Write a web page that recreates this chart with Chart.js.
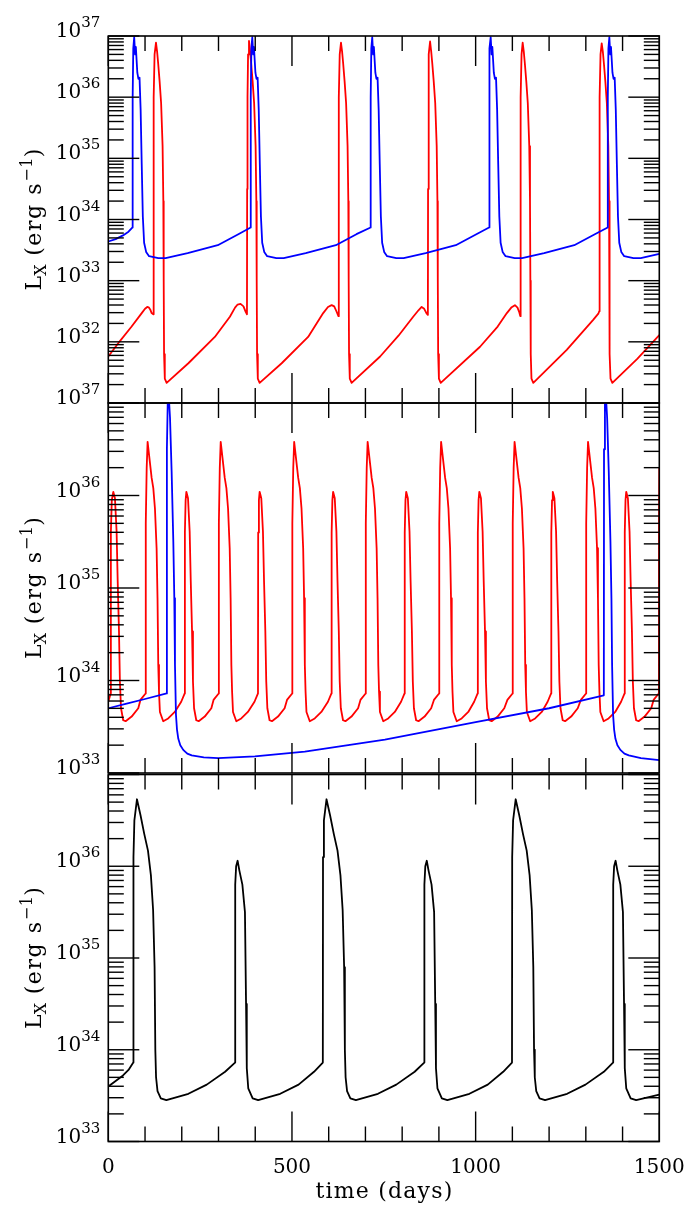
<!DOCTYPE html>
<html><head><meta charset="utf-8">
<script src="https://cdn.jsdelivr.net/npm/chart.js@4.4.1/dist/chart.umd.min.js"></script>
<style>
html,body{margin:0;padding:0;background:#fff;}
#wrap{position:relative;width:691px;height:1207px;background:#fff;}
canvas{position:absolute;left:0;top:0;}
</style></head><body><div id="wrap">
<canvas id="c1" width="691" height="1207"></canvas>
<canvas id="c2" width="691" height="1207"></canvas>
<canvas id="c3" width="691" height="1207"></canvas>
</div>
<script>
// ---------- axis ticks / labels ----------
const xTickValues  = [0,100,200,300,400,500,600,700,800,900,1000,1100,1200,1300,1400,1500];
const xMajorValues = [0,500,1000,1500];
const xTickLabels  = ['0','500','1000','1500'];
const topLabelExps = [37,36,35,34,33,32];
const midLabelExps = [37,36,35,34,33];
const botLabelExps = [36,35,34,33];
const xTitle = 'time (days)';

// ---------- top panel: blue (time in days, log10 Lx) ----------
const topBlueTime = [0,20,40,55,66,
66.3,68,70.5,73,75,79,82,85,88,91,94,97.5,103,111,136,156,216,298,354,387.5,
387.8,389.5,392,394.5,396.5,400.5,403.5,406.5,409.5,412.5,415.5,419,424.5,432.5,457.5,477.5,537.5,619.5,675.5,714,
714.3,716,718.5,721,723,727,730,733,736,739,742,745.5,751,759,784,804,864,946,1002,1036.5,
1036.8,1038.5,1041,1043.5,1045.5,1049.5,1052.5,1055.5,1058.5,1061.5,1064.5,1068,1073.5,1081.5,1106.5,1126.5,1186.5,1268.5,1324.5,1359.5,
1359.8,1361.5,1364,1366.5,1368.5,1372.5,1375.5,1378.5,1381.5,1384.5,1387.5,1391,1396.5,1404.5,1429.5,1449.5,1500];
const topBlueLog = [33.64,33.68,33.74,33.80,33.87,
36.0,36.8,36.98,36.7,36.82,36.4,36.3,36.32,35.8,34.9,34.05,33.62,33.47,33.40,33.37,33.37,33.45,33.58,33.76,33.87,
36.0,36.8,36.98,36.7,36.82,36.4,36.3,36.32,35.8,34.9,34.05,33.62,33.47,33.40,33.37,33.37,33.45,33.58,33.76,33.87,
36.0,36.8,36.98,36.7,36.82,36.4,36.3,36.32,35.8,34.9,34.05,33.62,33.47,33.40,33.37,33.37,33.45,33.58,33.76,33.87,
36.0,36.8,36.98,36.7,36.82,36.4,36.3,36.32,35.8,34.9,34.05,33.62,33.47,33.40,33.37,33.37,33.45,33.58,33.76,33.87,
36.0,36.8,36.98,36.7,36.82,36.4,36.3,36.32,35.8,34.9,34.05,33.62,33.47,33.40,33.37,33.37,33.44];

// ---------- top panel: red ----------
const topRedTime = [
0,30,63.5,91,100,106,110,114,118,122.5,
123,124,126,129.8,132.8,135.8,139.8,143.8,147.8,149.8,150.8,151.8,153.8,158.8,
218,290,331,345,352,360,368,374,377.5,
378,379,380.5,383,386,389,393,397,401,403,404,405,407,412,
472,544,585,598,608,615,621,626.5,
627,628,630,633.4,636.4,639.4,643.4,647.4,651.4,653.4,654.4,655.4,657.4,662.4,
740,790,830,845,853,860,866,870,
870.5,871.5,873,876,879,882,886,890,894,896,897,898,900,905,
1012,1060,1085,1097,1107,1114,1119,1121.5,
1122,1123,1125,1128,1131,1134,1138,1142,1146,1148,1149,1150,1152,1157,
1248,1320,1334,1336.5,
1337,1338,1340,1343.2,1346.2,1349.2,1353.2,1357.2,1361.2,1363.2,1364.2,1365.2,1367.2,1372.2,
1440,1500];
const topRedLog = [
31.76,32.0,32.25,32.47,32.54,32.57,32.565,32.53,32.47,32.45,
34.5,36.0,36.7,36.89,36.75,36.55,36.25,35.9,35.2,34.3,33.0,31.8,31.4,31.33,
31.65,32.08,32.41,32.56,32.61,32.62,32.58,32.49,32.45,
34.5,36.0,36.7,36.92,36.75,36.55,36.25,35.9,35.2,34.3,33.0,31.8,31.4,31.33,
31.65,32.08,32.47,32.57,32.6,32.58,32.5,32.42,
34.5,36.0,36.7,36.89,36.75,36.55,36.25,35.9,35.2,34.3,33.0,31.8,31.4,31.33,
31.76,32.1,32.41,32.52,32.57,32.54,32.47,32.44,
34.5,36.0,36.7,36.91,36.75,36.55,36.25,35.9,35.2,34.3,33.0,31.8,31.4,31.33,
31.92,32.25,32.47,32.56,32.6,32.56,32.48,32.42,
34.5,36.0,36.7,36.89,36.75,36.55,36.25,35.9,35.2,34.3,33.0,31.8,31.4,31.33,
31.87,32.36,32.46,32.5,
34.5,36.0,36.7,36.88,36.75,36.55,36.25,35.9,35.2,34.3,33.0,31.8,31.4,31.33,
31.72,32.11];

// ---------- middle panel: blue ----------
const midBlueTime = [0,50,100,159,159.5,162,165,168,172.4,177,179.7,181.5,184.2,187,190.6,196,204,215,227,260,299,399,535,753,1000,1200,1349,
1349.5,1352,1355,1358,1362.4,1367,1369.7,1371.5,1374.2,1377,1380.6,1386,1394,1405,1417,1450,1500];
const midBlueLog = [33.70,33.75,33.80,33.86,36.5,37.05,37.05,36.84,36.26,35.5,34.89,34.17,33.63,33.47,33.37,33.30,33.25,33.21,33.19,33.17,33.16,33.18,33.23,33.36,33.55,33.70,33.84,
36.5,37.05,37.05,36.84,36.26,35.5,34.89,34.17,33.63,33.47,33.37,33.30,33.25,33.21,33.19,33.16,33.14];

// ---------- middle panel: red ----------
const midRedTime = [
0,6.5,7,9.5,13.6,
18.1,22.6,25.6,29.1,31.6,34.6,40.6,47.1,63.6,81.6,87.5,101.5,
102,104.5,107,118,122.5,127,131.5,134,136,138,140.5,149.5,163,181,198.5,208,208.5,210.5,212.5,
217,221.5,224.5,228,230.5,233.5,239.5,246,262.5,280.5,286.5,300.5,
301,303.5,306,317,321.5,326,330.5,333,335,337,339.5,348.5,362,380,398,407.5,408,410,412,
416.5,421,424,427.5,430,433,439,445.5,462,480,486.5,500.5,
501,503.5,506,517,521.5,526,530.5,533,535,537,539.5,548.5,562,580,598,607.5,608,610,612,
616.5,621,624,627.5,630,633,639,645.5,662,680,686.5,700.5,
701,703.5,706,717,721.5,726,730.5,733,735,737,739.5,748.5,762,780,797,806.5,807,809,811,
815.5,820,823,826.5,829,832,838,844.5,861,879,886.5,900.5,
901,903.5,906,917,921.5,926,930.5,933,935,937,939.5,948.5,962,980,996,1005.5,1006,1008,1010,
1014.5,1019,1022,1025.5,1028,1031,1037,1043.5,1060,1078,1086.5,1100.5,
1101,1103.5,1106,1117,1121.5,1126,1130.5,1133,1135,1137,1139.5,1148.5,1162,1180,1196,1205.5,1206,1208,1210,
1214.5,1219,1222,1225.5,1228,1231,1237,1243.5,1260,1278,1286.5,1300.5,
1301,1303.5,1306,1317,1321.5,1326,1330.5,1333,1335,1337,1339.5,1348.5,1362,1380,1396,1405.5,1406,1408,1410,
1414.5,1419,1422,1425.5,1428,1431,1437,1443.5,1460,1478,1484.5,1498.5,1499,1500];
const midRedLog = [
33.77,33.86,35.6,35.95,36.04,
35.97,35.61,35.07,34.53,33.99,33.70,33.57,33.56,33.61,33.70,33.79,33.86,
35.7,36.3,36.58,36.19,36.08,35.86,35.43,34.89,34.17,33.88,33.66,33.56,33.59,33.66,33.77,33.86,35.6,35.95,36.04,
35.97,35.61,35.07,34.53,33.99,33.70,33.57,33.56,33.61,33.70,33.79,33.86,
35.7,36.3,36.58,36.19,36.08,35.86,35.43,34.89,34.17,33.88,33.66,33.56,33.59,33.66,33.77,33.86,35.6,35.95,36.04,
35.97,35.61,35.07,34.53,33.99,33.70,33.57,33.56,33.61,33.70,33.79,33.86,
35.7,36.3,36.58,36.19,36.08,35.86,35.43,34.89,34.17,33.88,33.66,33.56,33.59,33.66,33.77,33.86,35.6,35.95,36.04,
35.97,35.61,35.07,34.53,33.99,33.70,33.57,33.56,33.61,33.70,33.79,33.86,
35.7,36.3,36.58,36.19,36.08,35.86,35.43,34.89,34.17,33.88,33.66,33.56,33.59,33.66,33.77,33.86,35.6,35.95,36.04,
35.97,35.61,35.07,34.53,33.99,33.70,33.57,33.56,33.61,33.70,33.79,33.86,
35.7,36.3,36.58,36.19,36.08,35.86,35.43,34.89,34.17,33.88,33.66,33.56,33.59,33.66,33.77,33.86,35.6,35.95,36.04,
35.97,35.61,35.07,34.53,33.99,33.70,33.57,33.56,33.61,33.70,33.79,33.86,
35.7,36.3,36.58,36.19,36.08,35.86,35.43,34.89,34.17,33.88,33.66,33.56,33.59,33.66,33.77,33.86,35.6,35.95,36.04,
35.97,35.61,35.07,34.53,33.99,33.70,33.57,33.56,33.61,33.70,33.79,33.86,
35.7,36.3,36.58,36.19,36.08,35.86,35.43,34.89,34.17,33.88,33.66,33.56,33.59,33.66,33.77,33.86,35.6,35.95,36.04,
35.97,35.61,35.07,34.53,33.99,33.70,33.57,33.56,33.61,33.70,33.79,33.86,35.7,36.3];

// ---------- bottom panel: black ----------
const botTime = [0,20,40,55,68,
68.5,71,78,88,98,108,116,122,126,128,130,134,143,158,218,268,318,345,
345.5,348,352,357,365,372,375,377,381,393,408,468,518,560,584,
584.5,587,594,604,614,624,632,638,642,644,646,650,659,674,734,784,834,860,
860.5,863,867,872,880,887,890,892,896,908,923,983,1033,1075,1099,
1099.5,1102,1109,1119,1129,1139,1147,1153,1157,1159,1161,1165,1174,1189,1249,1299,1349,1374,
1374.5,1377,1381,1386,1394,1401,1404,1406,1410,1422,1437,1500];
const botLog = [33.60,33.66,33.72,33.78,33.86,
36.1,36.5,36.73,36.55,36.35,36.17,35.9,35.52,34.9,34.0,33.7,33.55,33.47,33.45,33.52,33.62,33.76,33.86,
35.8,36.0,36.06,35.95,35.8,35.5,34.5,33.8,33.58,33.47,33.45,33.52,33.62,33.76,33.86,
36.1,36.5,36.73,36.55,36.35,36.17,35.9,35.52,34.9,34.0,33.7,33.55,33.47,33.45,33.52,33.62,33.76,33.86,
35.8,36.0,36.06,35.95,35.8,35.5,34.5,33.8,33.58,33.47,33.45,33.52,33.62,33.76,33.86,
36.1,36.5,36.73,36.55,36.35,36.17,35.9,35.52,34.9,34.0,33.7,33.55,33.47,33.45,33.52,33.62,33.76,33.86,
35.8,36.0,36.06,35.95,35.8,35.5,34.5,33.8,33.58,33.47,33.45,33.51];

// ---------- helpers ----------
const W = 691, H = 1207;
const LEFT = 108.3, RIGHT = 659.3;
const FONT = '"DejaVu Serif", "Liberation Serif", serif';

function pts(ts, ls){ return ts.map((t,i)=>({x:t, y:Math.pow(10, ls[i])})); }
function ds(ts, ls, color){
  return {data:pts(ts,ls), borderColor:color, borderWidth:1.8, pointRadius:0,
          fill:false, tension:0, borderJoinStyle:'round', borderCapStyle:'round'};
}

function line(ctx,x1,y1,x2,y2){ ctx.beginPath(); ctx.moveTo(x1,y1); ctx.lineTo(x2,y2); ctx.stroke(); }

function spaced(ctx, text, x, y, sp){
  let cx = x;
  for (const ch of text){ ctx.fillText(ch, cx, y); cx += ctx.measureText(ch).width + sp; }
  return cx - x;
}
function spacedWidth(ctx, text, sp){
  let w = 0; for (const ch of text){ w += ctx.measureText(ch).width + sp; } return w;
}

function framePlugin(cfg){
  return {
    id:'frame'+cfg.id,
    afterDraw(chart){
      const ctx = chart.ctx, a = chart.chartArea, xs = chart.scales.x, ys = chart.scales.y;
      ctx.save();
      ctx.strokeStyle = '#000'; ctx.fillStyle = '#000';
      ctx.lineWidth = 1.6; ctx.lineCap = 'butt';
      ctx.strokeRect(a.left, a.top, a.right-a.left, a.bottom-a.top);
      ctx.lineWidth = 1.4;
      // y ticks (inward, both sides)
      for (let e = cfg.minExp; e <= cfg.maxExp; e++){
        for (let k = 1; k <= 9; k++){
          const v = k*Math.pow(10,e);
          if (v < ys.min*0.999 || v > ys.max*1.001) continue;
          const py = ys.getPixelForValue(v);
          const len = (k===1) ? 31 : 15.5;
          line(ctx, a.left, py, a.left+len, py);
          line(ctx, a.right, py, a.right-len, py);
        }
      }
      // x ticks (inward, top and bottom)
      xTickValues.forEach(t=>{
        const px = xs.getPixelForValue(t);
        const len = xMajorValues.includes(t) ? 30 : 15;
        line(ctx, px, a.bottom, px, a.bottom-len);
        line(ctx, px, a.top, px, a.top+len);
      });
      // y tick labels: "10" with superscript exponent, baseline at tick
      ctx.textAlign = 'left'; ctx.textBaseline = 'alphabetic';
      cfg.labelExps.forEach(e=>{
        const py = ys.getPixelForValue(Math.pow(10,e));
        ctx.font = '15px '+FONT; const sup = String(e); const sw = ctx.measureText(sup).width;
        ctx.font = '20px '+FONT; const bw = ctx.measureText('10').width;
        const r = a.left - 8;
        ctx.fillText('10', r - sw - bw, py + 1);
        ctx.font = '15px '+FONT; ctx.fillText(sup, r - sw, py - 9);
      });
      // y title
      const cy = (a.top + a.bottom)/2;
      ctx.save();
      ctx.translate(41, cy); ctx.rotate(-Math.PI/2);
      const parts = [['L',22,0,0],['X',16,5,0],[' (erg s',22,0,1.6],['\u22121',16,-9,0.5],[')',22,0,0]];
      let total = 0;
      parts.forEach(p=>{ ctx.font = p[1]+'px '+FONT; total += spacedWidth(ctx, p[0], p[3]); });
      let x = -total/2;
      parts.forEach(p=>{ ctx.font = p[1]+'px '+FONT; x += spaced(ctx, p[0], x, p[2], p[3]); });
      ctx.restore();
      // x labels + title on bottom panel
      if (cfg.bottom){
        ctx.font = '20px '+FONT; ctx.textAlign = 'center';
        xMajorValues.forEach((t,i)=>{ ctx.fillText(xTickLabels[i], xs.getPixelForValue(t), a.bottom + 31); });
        ctx.font = '22px '+FONT; ctx.textAlign = 'left';
        const sp = 1.2;
        const tw = spacedWidth(ctx, xTitle, sp) - sp;
        spaced(ctx, xTitle, (a.left+a.right)/2 - tw/2, a.bottom + 56, sp);
      }
      ctx.restore();
    }
  };
}

function makePanel(id, top, bottom, minExp, maxExp, labelExps, datasets, isBottom){
  const cfg = {id, minExp, maxExp, labelExps, bottom:isBottom};
  return new Chart(document.getElementById(id), {
    type:'line',
    data:{datasets},
    options:{
      responsive:false, animation:false, events:[],
      layout:{padding:{left:LEFT, right:W-RIGHT, top:top, bottom:H-bottom}},
      scales:{
        x:{type:'linear', min:0, max:1500, display:false},
        y:{type:'logarithmic', min:Math.pow(10,minExp), max:Math.pow(10,maxExp), display:false}
      },
      plugins:{legend:{display:false}, tooltip:{enabled:false}}
    },
    plugins:[framePlugin(cfg)]
  });
}

makePanel('c1', 36, 403, 31, 37, topLabelExps,
  [ds(topBlueTime, topBlueLog, '#0000ff'), ds(topRedTime, topRedLog, '#ff0000')], false);
makePanel('c2', 403, 773, 33, 37, midLabelExps,
  [ds(midBlueTime, midBlueLog, '#0000ff'), ds(midRedTime, midRedLog, '#ff0000')], false);
makePanel('c3', 774.5, 1141.5, 33, 37, botLabelExps,
  [ds(botTime, botLog, '#000000')], true);
</script>
</body></html>
